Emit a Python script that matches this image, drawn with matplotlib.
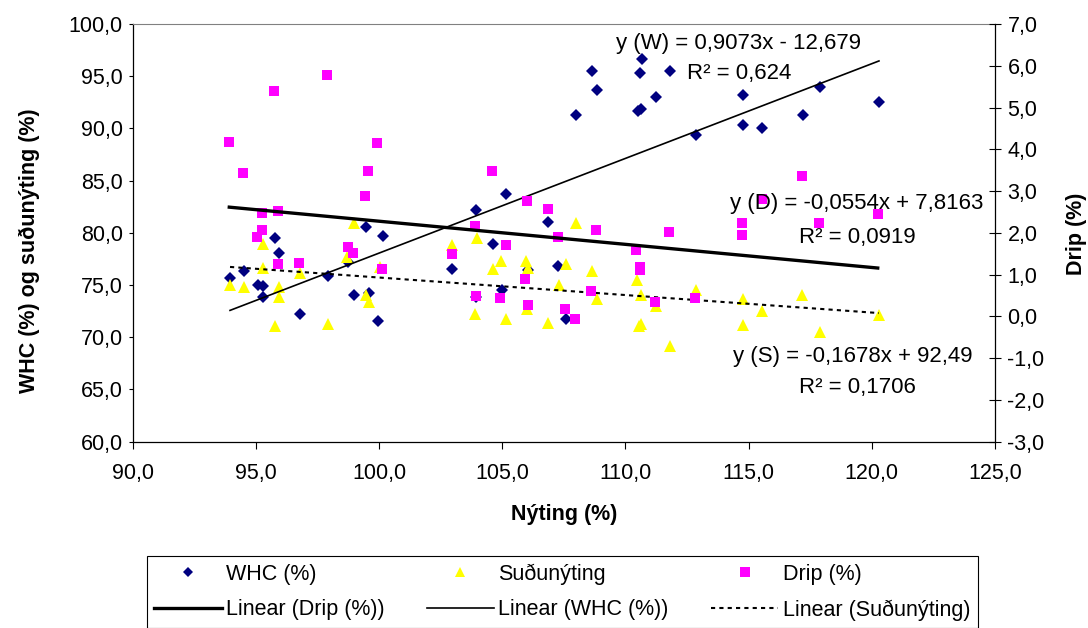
import matplotlib
matplotlib.use('Agg')
import matplotlib.pyplot as plt
from matplotlib.ticker import FuncFormatter, MultipleLocator
import numpy as np

plt.rcParams['font.family'] = ['Liberation Sans', 'DejaVu Sans']

# WHC (%) - left axis
whc_x = [93.95, 94.52, 95.07, 95.28, 95.28, 95.79, 95.94, 96.79, 97.91, 98.75,
         98.97, 99.47, 99.60, 99.96, 100.17, 102.97, 103.92, 103.93, 104.62, 104.98,
         105.16, 106.06, 106.87, 107.27, 107.57, 107.99, 108.64, 108.86, 110.52, 110.60,
         110.62, 110.68, 111.24, 111.81, 112.86, 114.78, 114.78, 115.54, 117.19, 117.89,
         120.29]
whc_y = [75.68, 76.35, 75.04, 74.88, 73.85, 79.51, 78.02, 72.17, 75.84, 77.21,
         74.02, 80.51, 74.24, 71.52, 79.67, 76.48, 82.17, 73.83, 78.88, 74.50,
         83.70, 76.41, 80.99, 76.86, 71.69, 91.30, 95.47, 93.67, 91.66, 95.33,
         91.85, 96.64, 92.97, 95.47, 89.33, 93.16, 90.32, 90.00, 91.30, 93.99,
         92.49]

# Suðunýting (%) - left axis
sud_x = [93.95, 94.52, 95.30, 95.30, 95.79, 95.94, 95.94, 96.79, 97.91, 98.71,
         98.97, 99.47, 99.60, 100.04, 102.97, 103.89, 103.97, 104.61, 104.95, 105.16,
         105.95, 106.01, 106.06, 106.87, 107.29, 107.59, 107.98, 108.64, 108.86, 110.45,
         110.55, 110.62, 110.64, 111.24, 111.81, 112.86, 114.76, 114.76, 115.55, 117.18,
         117.89, 120.29]
sud_y = [74.98, 74.76, 78.97, 76.63, 71.11, 74.76, 73.85, 76.10, 71.27, 77.69,
         80.89, 74.02, 73.37, 76.73, 78.81, 72.26, 79.45, 76.48, 77.31, 71.78,
         77.31, 72.74, 76.58, 71.40, 74.98, 76.99, 80.95, 76.35, 73.63, 75.46,
         71.05, 74.08, 71.24, 72.96, 69.13, 74.56, 73.66, 71.14, 72.51, 74.02,
         70.50, 72.10]

# Drip (%) - right axis
drip_x = [93.92, 94.49, 95.75, 97.87, 99.91, 99.56, 99.43, 95.26, 95.90, 95.26,
          95.04, 98.73, 98.93, 95.90, 96.75, 100.13, 104.58, 105.99, 106.84, 108.82,
          111.78, 103.88, 105.15, 107.27, 110.43, 102.95, 105.92, 110.59, 110.59, 103.93,
          104.92, 106.06, 108.60, 111.21, 112.83, 107.53, 107.96, 117.15, 115.53, 114.74,
          114.74, 117.85, 120.24]
drip_y = [4.18, 3.43, 5.39, 5.77, 4.14, 3.47, 2.89, 2.47, 2.52, 2.06,
          1.89, 1.66, 1.52, 1.24, 1.28, 1.14, 3.47, 2.76, 2.56, 2.06,
          2.02, 2.16, 1.70, 1.90, 1.58, 1.48, 0.89, 1.18, 1.10, 0.48,
          0.44, 0.26, 0.60, 0.35, 0.43, 0.18, -0.07, 3.35, 2.82, 2.23,
          1.94, 2.23, 2.44]

# trendline coefficients (slope, intercept) as printed on the chart
whc_fit = (0.9073, -12.679)
sud_fit = (-0.1678, 92.49)
drip_fit = (-0.0554, 7.8163)

navy = '#000080'
yellow = '#FFFF00'
magenta = '#FF00FF'


def comma(v, pos):
    return f'{v:.1f}'.replace('.', ',')


def trend(xs, fit):
    xx = np.array([min(xs), max(xs)])
    return xx, fit[0] * xx + fit[1]


fig = plt.figure(figsize=(10.88, 6.28), dpi=100)
ax = fig.add_axes([0.12197, 0.29697, 0.79255, 0.66481])
ax2 = ax.twinx()

# scatter series
h_whc, = ax.plot(whc_x, whc_y, ls='none', marker='D', ms=6, color=navy, mew=0, label='WHC (%)')
h_sud, = ax.plot(sud_x, sud_y, ls='none', marker='^', ms=8, color=yellow, mew=0, label='Suðunýting')
h_drip, = ax2.plot(drip_x, drip_y, ls='none', marker='s', ms=7.5, color=magenta, mew=0, label='Drip (%)')

# trendlines
tx, ty = trend(whc_x, whc_fit)
h_lwhc, = ax.plot(tx, ty, color='black', lw=1.2, label='Linear (WHC (%))')
tx, ty = trend(sud_x, sud_fit)
h_lsud, = ax.plot(tx, ty, color='black', lw=1.5, ls=(0, (2, 2)), label='Linear (Suðunýting)')
tx, ty = trend(drip_x, drip_fit)
h_ldrip, = ax2.plot(tx, ty, color='black', lw=2.4, label='Linear (Drip (%))')

ax.set_xlim(90, 125)
ax.set_ylim(60, 100)
ax2.set_ylim(-3, 7)
ax.xaxis.set_major_locator(MultipleLocator(5))
ax.yaxis.set_major_locator(MultipleLocator(5))
ax2.yaxis.set_major_locator(MultipleLocator(1))
for a in (ax.xaxis, ax.yaxis, ax2.yaxis):
    a.set_major_formatter(FuncFormatter(comma))

ax.tick_params(axis='x', direction='out', length=4.8, width=0.8, pad=11, labelsize=15.5)
ax.tick_params(axis='y', direction='out', length=3.2, width=0.8, pad=4, labelsize=15.5)
ax2.tick_params(axis='y', direction='inout', length=8, width=0.8, pad=5, labelsize=15.5)

for s in ('left', 'bottom'):
    ax.spines[s].set_color('black')
    ax.spines[s].set_linewidth(0.9)
ax.spines['top'].set_color('#808080')
ax.spines['right'].set_visible(False)
for s in ('left', 'bottom', 'top'):
    ax2.spines[s].set_visible(False)
ax2.spines['right'].set_linewidth(0.9)

ax.set_xlabel('Nýting (%)', fontsize=15.5, fontweight='bold', va='center')
ax.xaxis.set_label_coords(0.5, -0.1737)
ax.set_ylabel('WHC (%) og suðunýting (%)', fontsize=15.5, fontweight='bold', va='center')
ax.yaxis.set_label_coords(-0.1195, 0.4575)
ax2.set_ylabel('Drip (%)', fontsize=15.5, fontweight='bold', va='center', rotation=90)
ax2.yaxis.set_label_coords(1.0945, 0.498)

# trendline equations
fig.text(738.5 / 1088, 1 - 43 / 628, 'y (W) = 0,9073x - 12,679', fontsize=16, ha='center', va='center')
fig.text(739 / 1088, 1 - 73 / 628, 'R² = 0,624', fontsize=16, ha='center', va='center')
fig.text(857 / 1088, 1 - 203 / 628, 'y (D) = -0,0554x + 7,8163', fontsize=16, ha='center', va='center')
fig.text(857 / 1088, 1 - 237 / 628, 'R² = 0,0919', fontsize=16, ha='center', va='center')
fig.text(852.5 / 1088, 1 - 356.7 / 628, 'y (S) = -0,1678x + 92,49', fontsize=16, ha='center', va='center')
fig.text(857 / 1088, 1 - 387 / 628, 'R² = 0,1706', fontsize=16, ha='center', va='center')

handles = [h_whc, h_ldrip, h_sud, h_lwhc, h_drip, h_lsud]
leg = fig.legend(handles, [h.get_label() for h in handles], loc='upper left',
                 bbox_to_anchor=(146.5 / 1088, 1 - 556 / 628), ncol=3, frameon=True,
                 fancybox=False, edgecolor='black', framealpha=1, borderpad=0.35,
                 handlelength=3.14, handletextpad=0.2, columnspacing=1.95,
                 labelspacing=0.67, fontsize=15.5, markerscale=0.9, borderaxespad=0)
leg.get_frame().set_linewidth(0.8)

fig.savefig('out.png', dpi=100)
